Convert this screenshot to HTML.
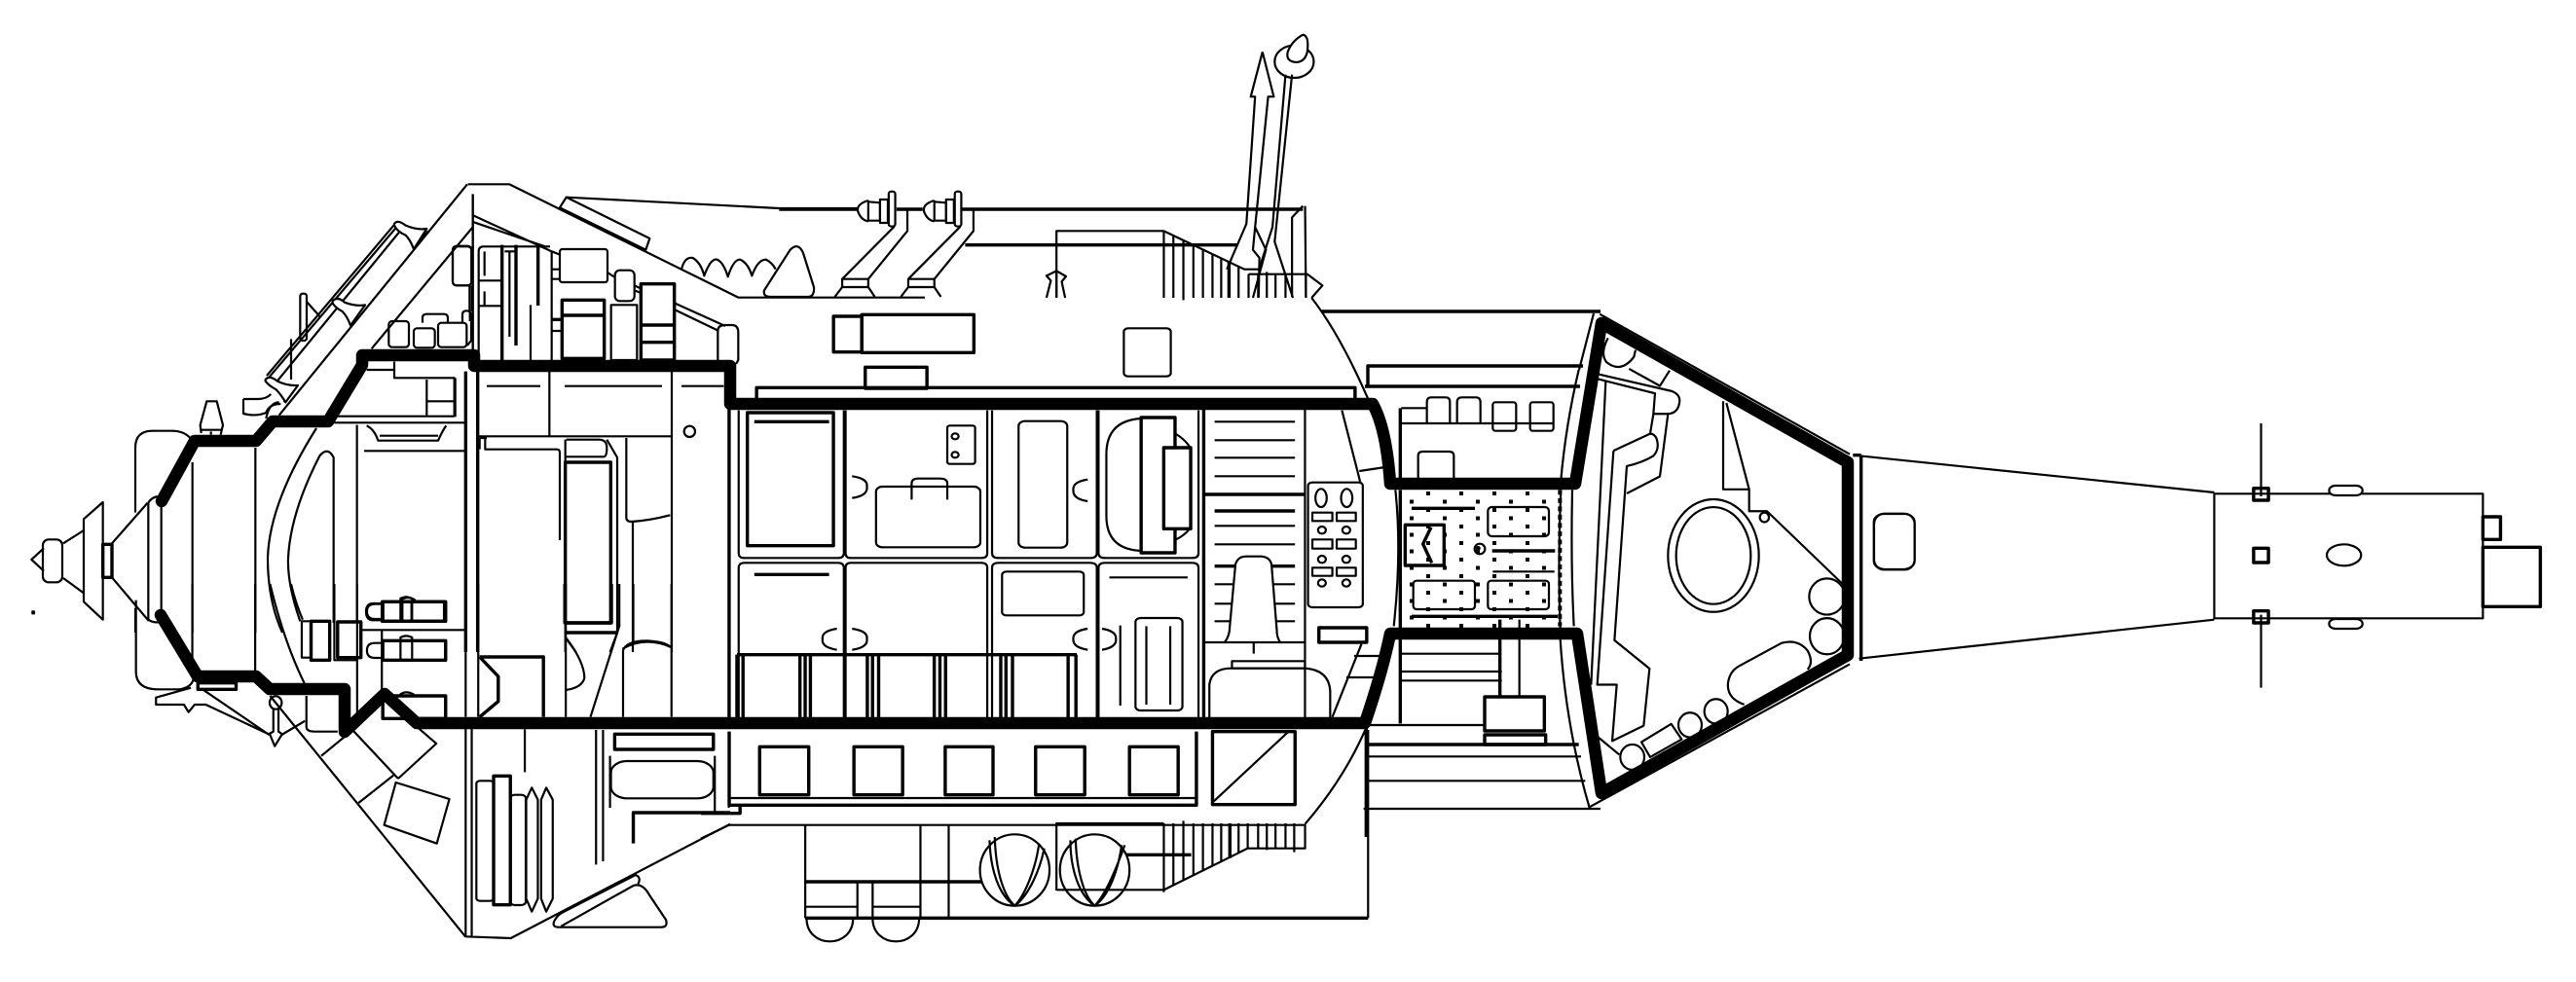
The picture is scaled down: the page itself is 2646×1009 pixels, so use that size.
<!DOCTYPE html>
<html><head><meta charset="utf-8"><title>Cutaway diagram</title>
<style>
html,body{margin:0;padding:0;background:#fff}
svg{display:block}
svg *{vector-effect:non-scaling-stroke}
path,rect,ellipse,circle,polygon{fill:none;stroke:#000;stroke-width:2.2;stroke-linejoin:round}
.t{stroke-width:3.4}
.w{fill:#fff}
.x{stroke-width:12.5;stroke-linecap:round}
</style></head><body>
<svg width="2646" height="1009" viewBox="0 0 2646 1009" xmlns="http://www.w3.org/2000/svg">
<defs><pattern id="dots" patternUnits="userSpaceOnUse" x="684" y="375" width="102" height="51">
<rect x="51" y="0" width="12" height="12" style="fill:#000;stroke:none"/><rect x="0" y="25.5" width="12" height="12" style="fill:#000;stroke:none"/></pattern></defs>

<!-- Zone 1: nose -->
<g transform="translate(0,150) scale(.33333)">
<path d="M135 1240L97 1275L135 1310"/><rect x="132" y="1213" width="60" height="132" rx="18"/>
<path d="M195 1225L258 1185M195 1332L258 1378"/>
<polygon points="258,1150 317,1098 317,1460 258,1405"/>
<rect x="317" y="1228" width="28" height="102" class="t"/>
<path d="M345 1225L455 1100M345 1330L455 1460"/>
<path d="M457 1100V1465M457 1100Q465 1085 485 1080M497 1100V1440M457 1460Q470 1470 490 1468"/>
<path d="M417 1130V930Q417 878 470 878H530Q570 878 590 905"/>
<path d="M417 1425V1500M593 975V1500M787 930V1500"/>
<path d="M975 870Q830 1100 825 1270Q825 1400 870 1500"/>
<path d="M925 1465Q885 1350 888 1270Q895 1130 985 955Q1010 925 1028 960V1470"/>
<path d="M1100 860V1470M1030 853H1440M1040 833H1400M1122 940H1432"/>
<path d="M1130 862Q1155 875 1165 908H1350Q1365 875 1375 862M1170 893H1350"/>
<path d="M1215 665V715H1400V835M1315 720V830M1315 787H1400M1130 690H1215M1403 715V835"/>
<path d="M1478 900H1500M1478 900V935"/>
<rect x="1198" y="540" width="62" height="80" rx="10"/><rect x="1275" y="562" width="65" height="60" rx="10"/>
<path d="M1302 545V530Q1302 518 1315 518H1368Q1380 518 1380 530V545"/>
<rect x="1350" y="545" width="88" height="75" rx="10"/>
<path d="M1425 545V520Q1425 508 1438 508Q1452 508 1452 525V600L1440 615"/>
<rect x="1395" y="308" width="58" height="122" rx="12"/><path d="M1448 430V540"/>
<path d="M620 885L617 860L637 787H668L687 860L680 890M618 875H685M650 880V890"/>
<rect x="925" y="455" width="20" height="145" rx="8"/><path d="M945 480L985 525M897 595V720"/>
<path d="M1222 250L830 712M1233 262L850 730M1214 244L822 708"/>
<path d="M1320 262L1275 315M1125 490L1078 550M915 740L875 790"/>
<path d="M1215 240Q1225 225 1250 245Q1285 260 1315 255L1275 318Q1265 290 1250 275Q1225 265 1215 245Z" class="w"/>
<path d="M1025 478Q1040 462 1062 482Q1095 495 1125 490L1080 553Q1070 525 1055 510Q1035 500 1025 485Z" class="w"/>
<path d="M818 720Q830 705 855 725Q885 740 918 738L880 790Q865 765 850 750Q830 740 818 725Z" class="w"/>
<path d="M860 790Q830 790 820 840M750 780H795Q820 780 835 765M750 780V825Q790 835 820 822Q830 795 865 795"/>
<path d="M860 830L1440 118"/>
<path d="M1457 250L1145 625M1457 150V625"/>
<rect x="1178" y="1405" width="192" height="60" class="t"/>
<path d="M1178 1410H1150Q1128 1410 1128 1435Q1128 1462 1150 1462H1178M1240 1405V1465M1268 1405V1465M1235 1400Q1255 1385 1280 1400"/>
<rect x="100" y="1435" width="5" height="6" style="fill:#000"/>
</g>

<!-- Zone 2: lower left -->
<g transform="translate(0,600) scale(.47832,.33333)">
<path d="M292 50V270Q292 325 340 325H385Q410 320 415 295"/>
<path d="M413 0V270M548 0V270"/>
<path d="M580 0Q610 180 655 310M625 0Q635 60 650 110"/>
<path d="M435 325L578 465M580 345L1000 1088"/>
<path d="M410 320L335 350V372H395L405 395L418 372H442L580 465L590 500L605 465L655 422"/>
<ellipse cx="592" cy="366" rx="13" ry="20"/><path d="M587 385V455L578 462M598 385V455L605 462"/>
<rect x="425" y="305" width="82" height="20" class="t"/>
<path d="M658 345V440Q658 455 675 455H725"/>
<path d="M690 530L745 465M757 450L855 600M770 675L845 590M895 440L937 492L855 600"/>
<polygon points="850,612 965,663 938,800 825,743"/>
<path d="M1000 445V1085M1013 445V1085M1000 0V410M1027 0V410M1000 1087L1097 1092L1568 740" />
<path d="M1127 448V580M1280 450V865M1295 450V855"/>
<rect x="1320" y="463" width="212" height="47" class="t"/>
<path d="M1310 530V690M1535 530V705M1565 660V690"/>
<rect x="1312" y="546" width="220" height="115" rx="35"/>
<path d="M1360 800V705H1568" class="t"/>
<rect x="1023" y="607" width="37" height="370" rx="8"/><rect x="1060" y="592" width="36" height="397" class="t"/><rect x="1096" y="650" width="33" height="340" rx="10"/>
<polygon points="1142,628 1155,665 1155,970 1142,1010 1130,970 1130,665"/>
<polygon points="1173,628 1187,665 1187,970 1173,1010 1162,970 1162,665"/>
<path d="M1205 1055L1360 930Q1380 920 1395 960L1430 1035Q1435 1058 1420 1058H1200Q1185 1058 1190 1040Q1195 1025 1205 1015L1365 897Q1378 905 1370 925"/>
<path d="M1030 225H1167V410M1030 225L1070 285V362L1030 410" class="t"/>
<path d="M1213 0V120H1313V0" class="t"/><path d="M1212 150H1325" class="t"/>
<path d="M1330 0V130L1268 410M1215 0V410M1215 165Q1255 240 1255 290Q1250 320 1215 327M1338 410V205Q1345 175 1390 175Q1430 178 1440 195M1360 0V180M1442 0V410"/>
<rect x="648" y="115" width="20" height="112"/><rect x="668" y="115" width="40" height="120" class="t"/><rect x="725" y="117" width="50" height="110" class="t"/>
<path d="M718 0V235H765M767 0V410M775 142H1000M820 142V345"/>
<rect x="822" y="55" width="135" height="60" class="t"/><rect x="822" y="175" width="135" height="60" class="t"/><rect x="822" y="345" width="135" height="70" class="t"/>
<path d="M822 62H805Q788 62 788 85Q788 108 805 108H822M822 182H805Q788 182 788 205Q788 228 805 228H822M860 115V55M885 115V45Q872 35 860 45V55M860 235V175M885 235V165Q872 155 860 165V175M860 345V340Q872 328 888 340V345"/>
</g>

<!-- Zone 3: upper hull -->
<g transform="translate(450,170) scale(.33333)">
<path d="M92 58H220L925 407H1500"/>
<path d="M395 98L1050 132H1290"/><polygon points="395,98 652,225 640,260 375,130"/>
<path d="M110 155L350 265M110 175L330 250M730 425L885 495M730 445L865 510"/>
<rect x="45" y="250" width="58" height="120" rx="12"/><path d="M97 370V450M105 370V450"/>
<path d="M125 600V265Q125 250 140 250H345M125 355H197M125 433H197M143 265V340M143 388V430M205 265H240M220 265V528M285 430V600M350 265V600"/>
<path d="M197 245V600" class="t"/><path d="M240 245V555" class="t"/><path d="M308 250V432" class="t"/>
<path d="M350 265L375 275M352 320H375M352 350H375M352 510H378M522 330L545 345M605 370L622 378M605 385L622 392"/><path d="M352 475H378" class="t"/>
<rect x="375" y="258" width="147" height="102" rx="8"/><rect x="545" y="323" width="60" height="95" rx="15"/>
<rect x="382" y="415" width="130" height="180" class="t"/><path d="M382 462H512" class="t"/>
<rect x="533" y="430" width="80" height="170"/>
<rect x="625" y="365" width="103" height="235" class="t"/><path d="M625 492H728M625 545H728" class="t"/>
<path d="M862 600V510Q862 492 885 492H905Q925 492 925 515V600L918 612"/>
<path d="M122 835H722M343 635V835M720 635V1500M150 680H315M390 680H690M750 680H880" />
<path d="M85 635V1500M122 635V1500" class="t"/>
<path d="M145 840V875H365Q375 875 375 885V1155"/>
<path d="M392 845V1500M395 845H495Q520 845 520 870Q520 898 510 898H395M520 845L552 900V1440M392 1440H552M552 1440L530 1500M392 1455L425 1500"/>
<rect x="392" y="915" width="140" height="495" class="t"/>
<path d="M580 840V1085Q580 1098 595 1098Q650 1095 715 1078M600 1100V1500M568 1490Q640 1450 718 1485"/>
<circle cx="775" cy="820" r="17"/>
<path d="M750 320Q760 280 785 285Q810 300 820 340Q840 285 860 290Q880 300 893 343Q910 290 930 290Q955 300 967 340Q985 290 1010 290Q1030 300 1040 320"/>
<path d="M1040 330L1085 260Q1110 235 1125 270L1158 375Q1160 405 1140 405H1025Q1000 405 1005 385Z"/>
<path d="M107 88V600"/>
</g>

<!-- Zone 4: top equipment -->
<g transform="translate(720,0) scale(.44643,.33333)">
<path d="M180 645H360M450 645H510M600 645H1385" class="t"/>
<path d="M1385 635L1360 670V915M1390 635L1392 915"/>
<g>
<path d="M385 618Q355 630 362 655Q370 680 385 682M385 618V682M385 622L412 625V680L385 680"/>
<rect x="412" y="615" width="18" height="72"/><rect x="432" y="590" width="15" height="108" rx="7"/>
<path d="M445 698L325 860V885L308 915M475 645V712L385 860V885L400 915M325 860H385M325 885H385"/>
</g>
<g transform="translate(152,0)">
<path d="M385 618Q355 630 362 655Q370 680 385 682M385 618V682M385 622L412 625V680L385 680"/>
<rect x="412" y="615" width="18" height="72"/><rect x="432" y="590" width="15" height="108" rx="7"/>
<path d="M445 698L325 860V885L308 915M475 645V712L385 860V885L400 915M325 860H385M325 885H385"/>
</g>
<path d="M608 755H1235" class="t"/>
<path d="M818 918V712H1065L1250 830H1285"/>
<path d="M795 918L805 865L795 850L818 835L840 852L830 868L838 918M818 835V918"/>
<path d="M1065 712V918M1087 726V918M1110 740V925M1133 755V918M1155 769V918M1177 783V918M1197 796V918M1237 822V918M1260 845V918M1282 845V918M1302 838V918M1322 845V918M1345 845V918M1392 845V918"/>
<path d="M1215 808V918" class="t"/>
<path d="M1260 845H1395L1430 880L1405 918"/>
<path d="M1292 160L1265 298H1275L1255 690L1210 830M1292 160L1318 298H1305L1275 700L1270 770L1285 795L1283 918M1275 700L1300 770L1270 918"/>
<ellipse cx="1365" cy="190" rx="45" ry="50"/>
<path d="M1385 107Q1400 110 1395 160Q1390 190 1370 192Q1345 190 1350 160Q1360 125 1385 107Z" class="w"/>
<path d="M1345 230L1315 700L1283 835M1360 230L1320 745L1362 918"/>
<rect x="305" y="975" width="65" height="110" class="t"/><rect x="370" y="970" width="258" height="117" class="t"/><rect x="378" y="1132" width="142" height="65" class="t"/>
<rect x="973" y="1012" width="108" height="148" rx="10"/>
<path d="M128 1230V1195H1505V1230" class="t"/>
<path d="M1405 918Q1470 1030 1535 1230"/>
</g>

<!-- Upper section box and top line (page coordinates) -->
<path d="M1358 320H1644" class="t"/>
<path d="M1405 397V376H1626M1402 397H1623" class="t"/>
<path d="M1637 322L1622 380"/>

<!-- Zone 5: cabinets -->
<g transform="translate(740,400) scale(.44643,.33333)">
<path d="M20 60V1015M1112 60V1015" class="t"/><path d="M1345 60V1015"/>
<path d="M42 65V505Q42 520 55 520H270Q284 520 284 505V65M288 65V505Q288 520 300 520H600Q614 520 614 505V65M625 65V505Q625 520 640 520H850Q866 520 866 505V65M870 65V505Q870 520 885 520H1085Q1100 520 1100 505V65"/>
<path d="M42 1015V550Q42 535 55 535H270Q284 535 284 550V1015M288 1015V550Q288 535 300 535H600Q614 535 614 550V1015M625 1015V550Q625 535 640 535H850Q866 535 866 550V1015M870 1015V550Q870 535 885 535H1085Q1100 535 1100 550V1015"/>
<rect x="62" y="72" width="198" height="410" class="t"/><path d="M78 100H250M78 571H250" class="t"/>
<rect x="522" y="112" width="64" height="118" rx="6"/><ellipse cx="540" cy="145" rx="8" ry="9"/><ellipse cx="540" cy="202" rx="8" ry="9"/>
<rect x="358" y="300" width="240" height="187" rx="15"/><path d="M440 340V290Q440 275 455 275H505Q522 275 522 290V340"/>
<path d="M303 268Q340 275 337 300Q340 328 303 335M845 278Q810 285 812 310Q810 338 845 345"/>
<rect x="686" y="98" width="112" height="390" rx="15"/>
<path d="M970 90Q888 95 888 200V390Q888 495 970 498M1045 135Q1075 160 1082 185M1045 465Q1070 450 1082 425"/>
<rect x="968" y="87" width="78" height="417" class="t w"/><rect x="1020" y="180" width="62" height="250" class="t w"/>
<path d="M1137 100H1322M1137 157H1322M1137 211H1322M1137 268H1322M1137 421H1322M1137 478H1322M1137 601H1180M1270 601H1322M1137 661H1175M1275 661H1322M1137 715H1172M1280 715H1322"/>
<path d="M1112 324H1345M1137 375H1322M1137 545H1185M1270 545H1322" class="t"/>
<path d="M1160 780Q1172 760 1172 730L1185 540Q1190 515 1210 515H1245Q1265 518 1268 540L1280 740Q1280 765 1288 780M1112 780H1345M1227 780V815"/>
<rect x="1177" y="838" width="168" height="22"/>
<path d="M1125 1015V910Q1130 860 1175 860H1345Q1400 865 1403 930V1015M1408 1010L1475 785"/>
<rect x="1352" y="287" width="126" height="385" rx="10"/>
<ellipse cx="1382" cy="335" rx="13" ry="28"/><ellipse cx="1441" cy="335" rx="13" ry="28"/>
<rect x="1362" y="380" width="46" height="26"/><rect x="1418" y="380" width="44" height="26"/><rect x="1362" y="463" width="46" height="28"/><rect x="1418" y="463" width="44" height="28"/><rect x="1362" y="550" width="46" height="25"/><rect x="1418" y="550" width="44" height="25"/>
<ellipse cx="1384" cy="434" rx="9" ry="11"/><ellipse cx="1440" cy="434" rx="9" ry="11"/><ellipse cx="1384" cy="524" rx="9" ry="11"/><ellipse cx="1440" cy="524" rx="9" ry="11"/><ellipse cx="1384" cy="597" rx="9" ry="11"/><ellipse cx="1440" cy="597" rx="9" ry="11"/>
<rect x="1377" y="735" width="110" height="45" class="t"/>
<path d="M1430 65L1472 285M1470 252L1530 240M1458 822H1520M1440 888H1510"/>
<path d="M38 818H820M38 818V1015M52 818V1015M183 818V1015M195 818V1015M207 818V1015M338 818V1015M350 818V1015M364 818V1015M492 818V1015M505 818V1015M518 818V1015M645 818V1015M657 818V1015M672 818V1015M800 818V1015M818 818V1015" class="t"/>
<rect x="648" y="562" width="188" height="135" rx="10"/>
<path d="M895 580H1075"/><rect x="955" y="705" width="108" height="285" rx="12"/><path d="M980 730V972M1035 730V972M920 728V975"/>
<path d="M268 738Q232 745 235 770Q232 795 268 803M303 738Q340 745 337 770Q340 795 303 803M845 738Q810 745 812 770Q810 795 845 803M878 738Q912 745 910 770Q912 795 878 803"/>
</g>

<!-- Zone 6: lower hull -->
<g transform="translate(720,720) scale(.44643,.33333)">
<path d="M65 95V322H1140V95" class="t"/><path d="M65 300H1137"/>
<path d="M0 347H90V322" class="t"/>
<rect x="135" y="142" width="113" height="148" class="t"/><rect x="352" y="142" width="112" height="148" class="t"/><rect x="562" y="142" width="110" height="148" class="t"/><rect x="770" y="142" width="113" height="148" class="t"/><rect x="986" y="142" width="112" height="148" class="t"/>
<rect x="1177" y="95" width="190" height="225" class="t"/><path d="M1180 310L1352 95"/>
<path d="M0 425L65 383H1065"/>
<path d="M240 383V670M505 383V670M570 383V670M360 558V670M395 558V670M240 635H360M395 635H505"/>
<path d="M240 558H645M240 670H1535" class="t"/>
<path d="M243 670C243 766 350 766 350 670M395 670C395 766 502 766 502 670"/>
<ellipse cx="722" cy="522" rx="80" ry="110"/><ellipse cx="906" cy="522" rx="80" ry="110"/>
<path d="M664 430C666 520 685 600 722 632C755 600 780 520 790 455M676 420C678 520 695 600 722 632C745 600 770 520 778 440M850 430C850 520 870 600 906 632C940 600 960 520 968 445M862 425C864 520 880 600 906 632C930 600 955 520 975 445"/>
<path d="M818 585V378H1065M818 583H1065L1258 455H1390V383H1065"/>
<path d="M1065 378V590M1087 378V570M1110 370V555M1133 378V540M1155 378V525M1177 378V510M1197 378V497M1237 378V470M1258 378V455M1282 378V455M1302 378V460M1322 378V455M1345 378V455M1365 378V467"/>
<path d="M1217 378V485" class="t"/>
<path d="M978 475H1128" class="t"/>
<path d="M1390 380Q1480 240 1530 85M1535 90V670"/>
</g>

<!-- Zone 7: central section -->
<g transform="translate(1220,380) scale(.33333)">
<path d="M658 118H735M652 165H1128"/><path d="M655 118V335M655 370V795M655 830V1090" class="t"/>
<path d="M737 165V100Q737 85 750 85H795Q808 85 808 100V165M830 165V100Q830 85 845 85H888Q902 85 902 100V165"/>
<rect x="940" y="100" width="72" height="88" rx="8"/><rect x="1055" y="100" width="72" height="88" rx="8"/>
<path d="M710 335V265Q710 252 725 252H805Q820 252 820 265V335"/>
<rect x="680" y="370" width="425" height="425" style="fill:url(#dots);stroke:none"/>
<path d="M1147 370V790" style="stroke-width:4;stroke-dasharray:5 3.5"/>
<path d="M690 427H885M938 558H1132M690 760H1140" class="t"/><path d="M940 622H1130"/>
<rect x="925" y="423" width="188" height="90" rx="12"/>
<rect x="670" y="478" width="120" height="125" class="t"/><path d="M750 485L725 537L752 595" class="t"/>
<circle cx="900" cy="552" r="16"/>
<circle cx="895" cy="550" r="4" style="fill:#000"/>
<rect x="695" y="650" width="190" height="88" rx="10"/><rect x="925" y="650" width="188" height="88" rx="10"/>
<path d="M962 770V1005" class="t"/><path d="M1022 770V1005"/>
<path d="M652 875H962M652 930H968M652 958H968"/>
<rect x="915" y="1008" width="184" height="105" class="t"/><rect x="915" y="1125" width="188" height="30" class="t"/>
<path d="M552 1095H915M552 1192H1212M552 1267H1225M542 1353H1272"/>
<path d="M552 1155H1205" class="t"/>
<path d="M550 1095V1440" class="t"/>
<path d="M640 370Q660 560 635 790"/>
<path d="M1205 0Q1165 170 1150 340M1150 370Q1140 600 1148 800M1185 370Q1180 600 1190 790M1148 830Q1165 1100 1238 1350"/>
</g>

<!-- Zone 8: pod -->
<g transform="translate(1600,300) scale(.33333,.35088)">
<path d="M130 65L900 475M95 1510L900 1090"/>
<path d="M155 135Q130 180 150 205Q195 240 235 190L240 170M220 225L315 275L345 230"/>
<path d="M122 240L350 290Q380 300 375 325Q370 355 340 357H295L300 297L125 255"/>
<path d="M148 262L103 1150M172 465L122 1150H182L168 1315L265 1270L283 1103L175 1020L213 510Q260 500 295 480Q315 460 305 430Q298 415 285 415L172 465M285 415L295 357M340 357L315 540L213 590"/>
<path d="M120 1300L190 1355"/>
<circle cx="230" cy="1362" r="37"/>
<polygon points="258,1318 350,1265 382,1310 285,1362"/>
<circle cx="408" cy="1268" r="36"/><circle cx="488" cy="1228" r="36"/>
<path d="M575 1208Q520 1190 525 1145Q530 1110 560 1095L690 1028Q740 1015 770 1050Q790 1085 770 1105"/>
<ellipse cx="480" cy="772" rx="140" ry="165"/><ellipse cx="480" cy="772" rx="115" ry="142"/>
<path d="M510 320V578H590L520 325M590 578V642H645L878 855"/>
<circle cx="637" cy="660" r="14"/>
<ellipse cx="830" cy="892" rx="55" ry="53"/><ellipse cx="830" cy="1008" rx="53" ry="53"/>
<path d="M935 478V1080M910 478H935" class="t"/>
<rect x="975" y="650" width="125" height="163" rx="30"/>
</g>

<!-- Zone 9: tail -->
<g transform="translate(1900,400) scale(.47577,.33333)">
<path d="M20 205L787 318M20 830L787 710"/>
<rect x="52" y="383" width="88" height="172" rx="25"/>
<rect x="787" y="322" width="580" height="384"/>
<rect x="872" y="305" width="32" height="37" class="t"/><path d="M888 105V330"/>
<rect x="872" y="683" width="32" height="37" class="t"/><path d="M888 695V920"/>
<rect x="872" y="490" width="32" height="44" class="t"/>
<rect x="1035" y="297" width="72" height="30" rx="14" class="w"/><rect x="1035" y="708" width="72" height="30" rx="14" class="w"/>
<ellipse cx="1067" cy="511" rx="37" ry="33"/>
<rect x="1367" y="393" width="38" height="70" class="t"/><rect x="1367" y="487" width="124" height="183" class="t"/>
</g>

<!-- Heavy hull outline -->
<path class="x" d="M166 515L200 453H263L280 433H337L372 375V365H487V376H750V415H1410Q1424 440 1428 497H1618L1645 332L1898 475V673L1645 815L1620 651H1428Q1420 690 1402 743H428L395 713L354 752V708H277L263 695H203L165 632"/>
</svg>
</body></html>
